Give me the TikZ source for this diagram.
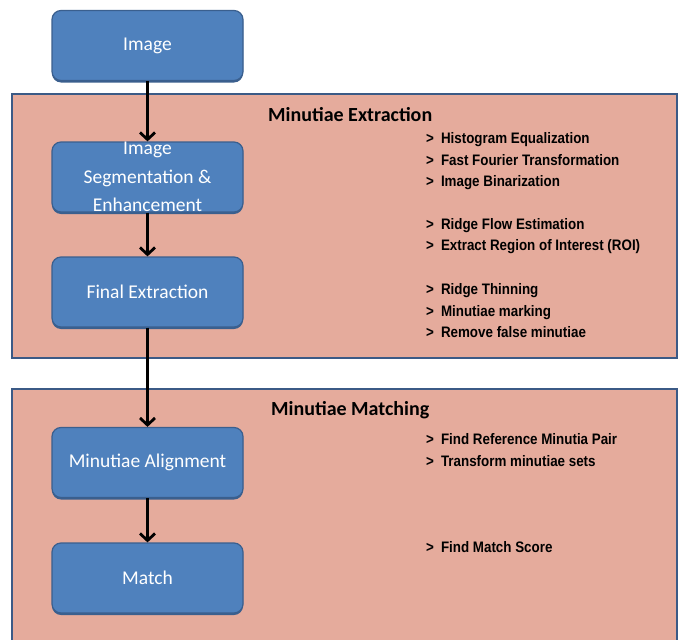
\documentclass[tikz,border=0pt]{standalone}
\usepackage{fontspec}
\setmainfont{Carlito}
\newfontfamily\bulletfont[FakeStretch=0.88]{Liberation Sans}
\usetikzlibrary{arrows.meta,shadows}
\definecolor{boxfill}{HTML}{4F81BD}
\definecolor{boxline}{HTML}{3A5F8E}
\definecolor{panelfill}{HTML}{E5AB9C}
\definecolor{panelline}{HTML}{3B5A86}
\tikzset{
  stepbox/.style={draw=boxline, line width=1.2pt, fill=boxfill, rounded corners=9pt,
    minimum width=191pt, minimum height=70pt, text=white, font=\fontsize{19.5}{28.5}\selectfont,
    align=center, inner sep=0pt, drop shadow={shadow xshift=0pt, shadow yshift=-2pt, fill=boxline, opacity=1}},
  panel/.style={draw=panelline, line width=1.8pt, fill=panelfill},
  paneltitle/.style={font=\fontsize{20}{24}\selectfont\bfseries, anchor=base west, inner sep=0pt},
  item/.style={font=\bulletfont\bfseries\fontsize{15.2}{18}\selectfont, anchor=base west, inner sep=0pt},
  flow/.style={line width=3.4pt, -{Straight Barb[length=7pt,width=15pt,line width=2.8pt]}}
}
\begin{document}
\begin{tikzpicture}[x=1pt,y=-1pt]
\useasboundingbox (0,0) rectangle (678,640);
% panels
\path[panel] (12,94) rectangle (677,358);
\path[panel] (12,389) rectangle (677,645);
\node[paneltitle] (t1) at (268,121) {Minutiae Extraction};
\node[paneltitle] (t2) at (271,415) {Minutiae Matching};
% boxes
\node[stepbox] (img) at (147.5,45.5) {Image};
\node[stepbox] (seg) at (147.5,177) {Image\\Segmentation \&\\Enhancement};
\node[stepbox] (fin) at (147.5,292) {Final Extraction};
\node[stepbox] (ali) at (147.5,462.5) {Minutiae Alignment};
\node[stepbox] (mat) at (147.5,578) {Match};
% arrows
\draw[flow] (img.south) -- (seg.north);
\draw[flow] (seg.south) -- (fin.north);
\draw[flow] (fin.south) -- (ali.north);
\draw[flow] (ali.south) -- (mat.north);
% bullet items
\node[item] (b1) at (426,143) {>\hspace{7pt}Histogram Equalization};
\node[item] (b2) at (426,165) {>\hspace{7pt}Fast Fourier Transformation};
\node[item] (b3) at (426,186) {>\hspace{7pt}Image Binarization};
\node[item] (b4) at (426,229) {>\hspace{7pt}Ridge Flow Estimation};
\node[item] (b5) at (426,250) {>\hspace{7pt}Extract Region of Interest (ROI)};
\node[item] (b6) at (426,294) {>\hspace{7pt}Ridge Thinning};
\node[item] (b7) at (426,316) {>\hspace{7pt}Minutiae marking};
\node[item] (b8) at (426,337) {>\hspace{7pt}Remove false minutiae};
\node[item] (c1) at (426,444) {>\hspace{7pt}Find Reference Minutia Pair};
\node[item] (c2) at (426,466) {>\hspace{7pt}Transform minutiae sets};
\node[item] (c3) at (426,552) {>\hspace{7pt}Find Match Score};
\end{tikzpicture}
\end{document}
